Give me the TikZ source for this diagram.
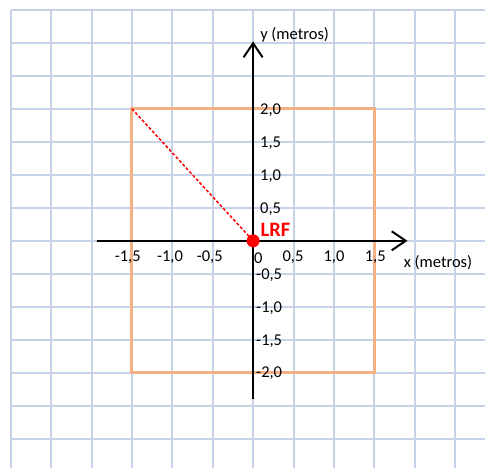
\documentclass[tikz,border=0pt]{standalone}
\usepackage{fontspec}
\setmainfont{Carlito}
\usetikzlibrary{arrows.meta}
\definecolor{gridc}{RGB}{198,210,232}
\definecolor{boxc}{RGB}{243,177,131}
\tikzset{
  gridline/.style={draw=gridc, line width=2pt},
  axisline/.style={draw=black, line width=2pt, -{Straight Barb[length=14pt,width=19pt,line width=2pt]}},
  lbl/.style={inner sep=0pt, font=\fontsize{16.5}{18}\selectfont},
  squarebox/.style={draw=boxc, line width=3pt},
  dashline/.style={draw=red, line width=1.5pt, dash pattern=on 3pt off 2pt},
  dot/.style={circle, fill=red, minimum size=13pt, inner sep=0pt}
}
\begin{document}
\begin{tikzpicture}[x=1pt,y=-1pt]
\useasboundingbox (0,0) rectangle (485,468);
\fill[white] (0,0) rectangle (485,468);
% grid
\foreach \k in {0,...,11} \draw[gridline] ({10.7+40.4*\k},9.8) -- ({10.7+40.4*\k},468);
\foreach \k in {0,...,13} \draw[gridline] (10.7,{9.8+33.0*\k}) -- (485,{9.8+33.0*\k});
% coordinates
\coordinate (O) at (253.1,240.8);
\coordinate (xs) at (96.7,240.8);
\coordinate (xe) at (407.5,240.8);
\coordinate (ys) at (253.1,398.5);
\coordinate (ye) at (253.1,41.5);
\coordinate (TL) at (131.9,108.8);
\coordinate (BR) at (374.3,372.8);
% square
\draw[squarebox] (TL) rectangle (BR);
% axes
\draw[axisline] (xs) -- (xe);
\draw[axisline] (ys) -- (ye);
% origin dot and dashed line
\node[dot] (lrf) at (O) {};
\draw[dashline] (TL) -- (lrf.center);
\node[lbl, text=red, font=\fontsize{20.5}{22}\selectfont\bfseries] (lrflbl) at (275.5,229.5) {LRF};
% y labels
\node[lbl, anchor=west] (y20) at (260,109.8) {2,0};
\node[lbl, anchor=west] (y15) at (260,142.8) {1,5};
\node[lbl, anchor=west] (y10) at (260,175.8) {1,0};
\node[lbl, anchor=west] (y05) at (260,208.8) {0,5};
\node[lbl, anchor=west] (ym05) at (256,275) {-0,5};
\node[lbl, anchor=west] (ym10) at (256,308) {-1,0};
\node[lbl, anchor=west] (ym15) at (256,341) {-1,5};
\node[lbl, anchor=west] (ym20) at (256,373.5) {-2,0};
% x labels
\node[lbl] (xm15) at (127.7,257) {-1,5};
\node[lbl] (xm10) at (170,257) {-1,0};
\node[lbl] (xm05) at (209.7,257) {-0,5};
\node[lbl] (x0) at (258.3,258) {0};
\node[lbl] (x05) at (293,257) {0,5};
\node[lbl] (x10) at (334,257) {1,0};
\node[lbl] (x15) at (375.3,257) {1,5};
% axis titles
\node[lbl] (xt) at (438,262.3) {x (metros)};
\node[lbl] (yt) at (294.6,34.3) {y (metros)};
\end{tikzpicture}
\end{document}
